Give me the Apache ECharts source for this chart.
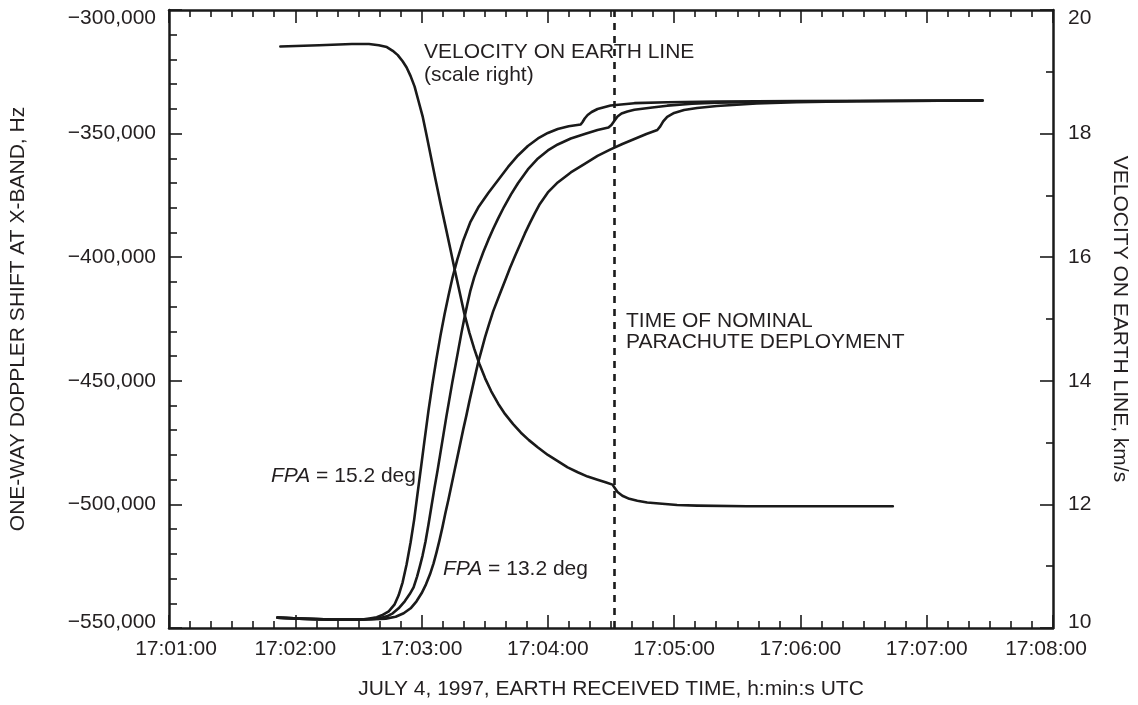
<!DOCTYPE html>
<html>
<head>
<meta charset="utf-8">
<title>Doppler shift and velocity on Earth line</title>
<script src="https://cdn.jsdelivr.net/npm/echarts@6/dist/echarts.min.js"></script>
<style>
  html, body { margin: 0; padding: 0; background: #ffffff; }
  #chart { width: 1138px; height: 705px; }
</style>
</head>
<body>
<div id="chart"></div>
<script>
// Time is counted in seconds after 17:00:00 UTC (Earth received time, July 4, 1997).
const timeTicks = [60, 120, 180, 240, 300, 360, 420, 480];
const deployTime = 271.5; // nominal parachute deployment, about 17:04:31

// One-way Doppler shift at X-band, Hz, for three entry flight-path angles
const dopplerFpa152 = [
  [111.5, -545790], [121.9, -546200], [137.5, -546600], [147.9, -546600], [152.6, -546520],
  [155.9, -546080], [158.7, -545670], [161.1, -544860], [164.4, -543250], [167.2, -540420],
  [169.1, -536780], [171.0, -531520], [172.9, -524240], [174.8, -515340], [176.5, -506040],
  [178.1, -495530], [179.8, -484610], [181.4, -474090], [183.3, -461960], [185.2, -451040],
  [187.1, -440930], [189.0, -431630], [190.9, -423140], [192.8, -415460], [194.6, -408580],
  [197.0, -400900], [199.8, -393210], [203.1, -385940], [206.9, -379900], [211.7, -374000],
  [216.4, -368750], [221.1, -363490], [225.8, -358840], [230.5, -355000], [235.3, -351970],
  [240.0, -349740], [244.7, -348120], [249.9, -347030], [255.6, -346300], [256.5, -345290],
  [257.5, -343880], [258.9, -342460], [260.8, -341250], [263.6, -340040], [269.8, -338620],
  [281.1, -337690], [296.7, -337290], [320.3, -337000], [358.1, -336840], [446.5, -336600]
];
const dopplerFpa142 = [
  [111.5, -545790], [121.9, -546200], [137.5, -546600], [147.9, -546600], [152.6, -546520],
  [155.9, -546400], [159.7, -546160], [163.5, -545270], [166.3, -544060], [169.1, -542030],
  [172.0, -539200], [174.3, -536370], [176.2, -533540], [177.9, -529090], [179.3, -524640],
  [180.5, -520600], [181.9, -514940], [183.3, -508060], [184.7, -500780], [186.1, -493510],
  [187.6, -486230], [189.0, -478950], [190.4, -471670], [191.8, -464390], [193.2, -457510],
  [194.6, -450640], [196.1, -443760], [197.5, -437290], [198.9, -430820], [200.3, -424760],
  [201.7, -419100], [203.1, -413840], [205.0, -408180], [206.9, -403500], [209.3, -398000],
  [211.7, -393000], [214.0, -388600], [216.4, -384300], [219.2, -379600], [222.5, -374600],
  [225.8, -370100], [230.5, -364500], [235.3, -360050], [240.0, -356820], [244.7, -354390],
  [250.9, -351970], [257.5, -350150], [263.6, -348530], [268.8, -347520], [270.2, -346510],
  [271.7, -344690], [273.1, -343070], [275.0, -341860], [277.8, -341050], [281.1, -340360],
  [289.6, -339430], [296.7, -338700], [308.5, -337930], [320.3, -337490], [358.1, -337000],
  [446.5, -336600]
];
const dopplerFpa132 = [
  [111.5, -545790], [121.9, -546200], [137.5, -546600], [147.9, -546600], [152.6, -546520],
  [157.3, -546480], [163.0, -546200], [167.7, -545470], [171.5, -544060], [174.8, -542030],
  [177.6, -539200], [180.0, -535970], [182.1, -532330], [184.0, -528280], [185.7, -523840],
  [187.1, -519390], [188.5, -514530], [189.9, -509280], [191.3, -503620], [192.8, -497950],
  [194.2, -492290], [195.6, -486630], [197.0, -480970], [198.4, -475310], [199.8, -469650],
  [201.3, -463980], [202.7, -458320], [204.1, -453070], [205.5, -447810], [206.9, -442550],
  [208.6, -437290], [210.2, -432240], [212.1, -426980], [214.0, -421930], [216.9, -415460],
  [219.7, -409390], [222.0, -404340], [224.4, -399480], [226.8, -394830], [229.1, -390380],
  [231.5, -386140], [233.9, -382090], [236.2, -378450], [240.0, -373800], [244.7, -369760],
  [250.9, -365720], [257.5, -362280], [263.6, -359040], [269.8, -356410], [275.4, -354190],
  [281.1, -352170], [286.8, -350150], [292.0, -348530], [293.4, -347110], [294.8, -345090],
  [296.7, -343270], [300.0, -341650], [304.7, -340440], [310.9, -339630], [320.3, -338820],
  [339.2, -337810], [358.1, -337290], [386.5, -336920], [446.5, -336600]
];

// Velocity on Earth line, km/s (right scale)
const velocityEarthLine = [
  [112.9, 19.41], [131.3, 19.43], [146.9, 19.45], [155.0, 19.45], [159.7, 19.43],
  [163.5, 19.40], [166.3, 19.34], [168.7, 19.27], [171.0, 19.17], [172.9, 19.07],
  [174.8, 18.93], [176.7, 18.76], [178.6, 18.52], [180.5, 18.28], [182.4, 17.97],
  [184.3, 17.65], [186.6, 17.26], [189.0, 16.87], [191.8, 16.43], [193.7, 16.13],
  [195.6, 15.82], [198.0, 15.45], [200.3, 15.09], [202.7, 14.78], [205.0, 14.52],
  [207.4, 14.28], [210.2, 14.04], [213.1, 13.83], [216.4, 13.63], [219.7, 13.46],
  [223.5, 13.30], [227.2, 13.16], [231.0, 13.04], [235.3, 12.92], [240.0, 12.80],
  [244.7, 12.70], [249.4, 12.60], [254.2, 12.52], [258.9, 12.45], [263.6, 12.40],
  [267.4, 12.36], [270.7, 12.32], [271.7, 12.27], [273.1, 12.20], [275.4, 12.14],
  [278.7, 12.09], [282.5, 12.06], [287.2, 12.03], [294.3, 12.01], [301.4, 11.99],
  [310.9, 11.98], [334.5, 11.97], [403.9, 11.97]
];

const ink = '#1a1a1a';
const textInk = '#231f20';
const fontFamily = '"Liberation Sans", Arial, Helvetica, sans-serif';
const fontSize = 21;
const baseText = { fontSize: fontSize, fontFamily: fontFamily, color: textInk };

function clockLabel(sec) {
  const m = Math.round(sec / 60);
  const t = '17:' + String(m).padStart(2, '0') + ':00';
  if (sec === timeTicks[0]) return '{first|' + t + '}';
  if (sec === timeTicks[timeTicks.length - 1]) return '{last|' + t + '}';
  return t;
}
function hzLabel(v) {
  const t = (v < 0 ? '\u2212' : '') + Math.abs(v).toLocaleString('en-US');
  if (v === -300000) return '{top|' + t + '}';
  if (v === -550000) return '{bottom|' + t + '}';
  return t;
}
function kmsLabel(v) {
  if (v === 20) return '{top|' + v + '}';
  if (v === 10) return '{bottom|' + v + '}';
  return String(v);
}

const axisLine = { show: true, onZero: false, lineStyle: { color: ink, width: 2.5 } };
const majorTick = { show: true, inside: true, length: 13, lineStyle: { color: ink, width: 1.6 } };
function minor(n, len) {
  return { show: true, splitNumber: n, length: len, lineStyle: { color: ink, width: 1.6 } };
}
const labelStyle = { color: textInk, fontSize: fontSize, fontFamily: fontFamily };

// Curves are drawn as dense polylines through the tabulated points.
function curve(name, data, yAxisIndex) {
  return {
    name: name,
    type: 'line',
    data: data,
    yAxisIndex: yAxisIndex,
    showSymbol: false,
    smooth: false,
    lineStyle: { color: ink, width: 2.6, join: 'round', cap: 'round' },
    emphasis: { disabled: true },
    z: 3
  };
}

const dopplerSeries = curve('FPA = 15.2 deg', dopplerFpa152, 0);
dopplerSeries.markLine = {
  silent: true,
  symbol: 'none',
  label: { show: false },
  lineStyle: { color: ink, width: 2.6, type: [7, 6] },
  data: [{ xAxis: deployTime }]
};

const chart = echarts.init(document.getElementById('chart'), null, { renderer: 'canvas' });
chart.setOption({
  animation: false,
  backgroundColor: '#ffffff',
  grid: { left: 169, right: 81, top: 10, bottom: 77 },
  xAxis: [
    {
      type: 'value', position: 'bottom',
      min: timeTicks[0], max: timeTicks[timeTicks.length - 1], interval: 60,
      axisLine: axisLine, axisTick: majorTick, minorTick: minor(6, 7),
      splitLine: { show: false },
      axisLabel: Object.assign({
        margin: 11, formatter: clockLabel,
        rich: {
          first: Object.assign({ padding: [0, 0, 0, 14] }, baseText),
          last: Object.assign({ padding: [0, 14, 0, 0] }, baseText)
        }
      }, labelStyle),
      name: 'JULY 4, 1997, EARTH RECEIVED TIME, h:min:s UTC',
      nameLocation: 'middle', nameGap: 51,
      nameTextStyle: labelStyle
    },
    {
      type: 'value', position: 'top',
      min: timeTicks[0], max: timeTicks[timeTicks.length - 1], interval: 60,
      axisLine: axisLine, axisTick: majorTick, minorTick: minor(6, 7),
      splitLine: { show: false }, axisLabel: { show: false }
    }
  ],
  yAxis: [
    {
      type: 'value', position: 'left',
      min: -550000, max: -300000, interval: 50000,
      axisLine: axisLine, axisTick: majorTick, minorTick: minor(5, 8),
      splitLine: { show: false },
      axisLabel: Object.assign({
        margin: 13, formatter: hzLabel,
        rich: {
          top: Object.assign({ padding: [16, 0, 0, 0] }, baseText),
          bottom: Object.assign({ padding: [0, 0, 12, 0] }, baseText)
        }
      }, labelStyle),
      name: 'ONE-WAY DOPPLER SHIFT AT X-BAND, Hz',
      nameLocation: 'middle', nameRotate: 90, nameGap: 140,
      nameTextStyle: labelStyle
    },
    {
      type: 'value', position: 'right',
      min: 10, max: 20, interval: 2,
      axisLine: axisLine, axisTick: majorTick, minorTick: minor(2, 7),
      splitLine: { show: false },
      axisLabel: Object.assign({
        margin: 15, formatter: kmsLabel,
        rich: {
          top: Object.assign({ padding: [17, 0, 0, 0] }, baseText),
          bottom: Object.assign({ padding: [0, 0, 12, 0] }, baseText)
        }
      }, labelStyle),
      name: 'VELOCITY ON EARTH LINE, km/s',
      nameLocation: 'middle', nameRotate: -90, nameGap: 56,
      nameTextStyle: labelStyle
    }
  ],
  series: [
    dopplerSeries,
    curve('FPA = 14.2 deg', dopplerFpa142, 0),
    curve('FPA = 13.2 deg', dopplerFpa132, 0),
    curve('Velocity on Earth line', velocityEarthLine, 1)
  ],
  graphic: [
    {
      type: 'text', x: 424, y: 41, z: 10,
      style: { text: 'VELOCITY ON EARTH LINE\n(scale right)', font: fontSize + 'px ' + fontFamily, fill: textInk, lineHeight: 23 }
    },
    {
      type: 'text', x: 626, y: 311, z: 10,
      style: { text: 'TIME OF NOMINAL\nPARACHUTE DEPLOYMENT', font: fontSize + 'px ' + fontFamily, fill: textInk, lineHeight: 21 }
    },
    {
      type: 'text', x: 271, y: 466, z: 10,
      style: {
        text: '{i|FPA} = 15.2 deg', font: fontSize + 'px ' + fontFamily, fill: textInk,
        rich: { i: Object.assign({ fontStyle: 'italic' }, baseText) }
      }
    },
    {
      type: 'text', x: 443, y: 559, z: 10,
      style: {
        text: '{i|FPA} = 13.2 deg', font: fontSize + 'px ' + fontFamily, fill: textInk,
        rich: { i: Object.assign({ fontStyle: 'italic' }, baseText) }
      }
    }
  ]
});
</script>
</body>
</html>
